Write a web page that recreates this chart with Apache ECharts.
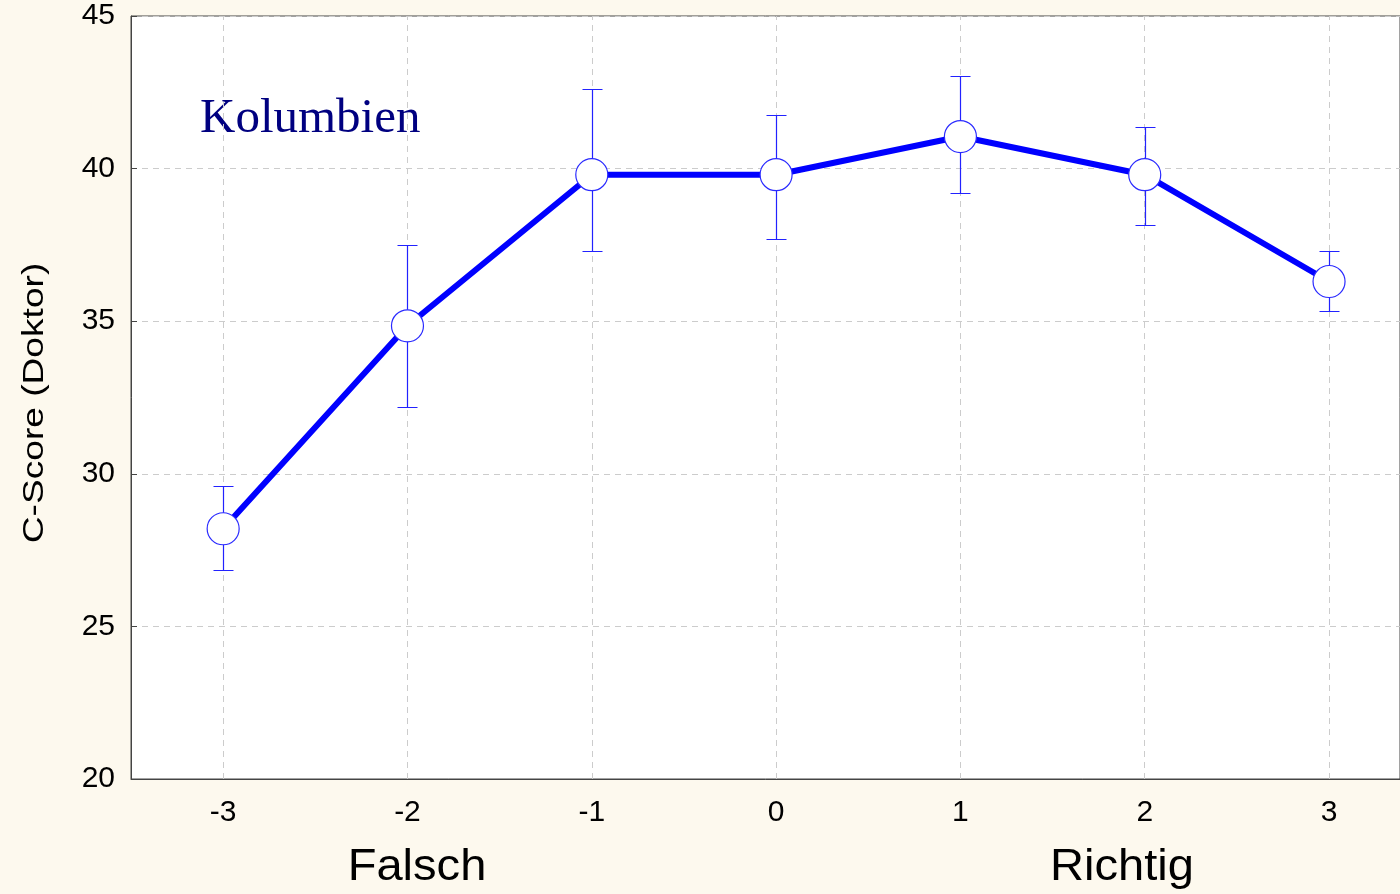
<!DOCTYPE html>
<html>
<head>
<meta charset="utf-8">
<script src="https://cdn.jsdelivr.net/npm/echarts@6/dist/echarts.min.js"></script>
<style>html,body{margin:0;padding:0;background:#fdf9ee;}#c{width:1400px;height:894px;}</style>
</head>
<body>
<div id="c"></div>
<script>
const xValues = [-3, -2, -1, 0, 1, 2, 3];
const means = [28.2, 34.85, 39.8, 39.8, 41.05, 39.8, 36.3];
const upper = [29.6, 37.5, 42.6, 41.75, 43.05, 41.35, 37.3];
const lower = [26.85, 32.2, 37.3, 37.7, 39.2, 38.15, 35.35];
const yTicks = [20, 25, 30, 35, 40, 45];
const panelTitle = 'Kolumbien';
const yTitle = 'C-Score (Doktor)';
const leftLabel = 'Falsch';
const rightLabel = 'Richtig';

const chart = echarts.init(document.getElementById('c'), null, {renderer: 'canvas'});
const lineData = xValues.map((x, i) => [x, means[i]]);
const errData = xValues.map((x, i) => [x, lower[i], upper[i]]);
const fontSans = '"Liberation Sans", Arial, sans-serif';

chart.setOption({
  backgroundColor: '#fdf9ee',
  animation: false,
  grid: {left: 131, top: 16, right: 0, height: 763, show: true, backgroundColor: '#ffffff', borderColor: '#444', borderWidth: 1},
  xAxis: {
    type: 'value', min: -3.5, max: 3.385, interval: 0.5,
    axisLine: {show: true, onZero: false, lineStyle: {color: '#444', width: 1}},
    axisTick: {show: false},
    splitLine: {show: false},
    axisLabel: {
      color: '#000', fontSize: 30, fontFamily: fontSans, margin: 19,
      showMaxLabel: false,
      formatter: v => (Number.isInteger(v) && xValues.includes(v)) ? String(v) : ''
    }
  },
  yAxis: {
    type: 'value', min: yTicks[0], max: yTicks[yTicks.length - 1], interval: 5,
    axisLine: {show: true, onZero: false, lineStyle: {color: '#444', width: 1}},
    axisTick: {show: true, inside: true, length: 6, lineStyle: {color: '#444'}},
    splitLine: {show: true, lineStyle: {color: '#cccccc', type: [6, 5], width: 1}},
    axisLabel: {color: '#000', fontSize: 30, fontFamily: fontSans, margin: 16, padding: [10, 0, 0, 0]}
  },
  series: [
    {
      type: 'line', data: xValues.map(x => [x, 20]), symbol: 'none', lineStyle: {opacity: 0}, silent: true, z: 0,
      markLine: {
        silent: true, symbol: ['none', 'none'], label: {show: false}, z: 0,
        lineStyle: {color: '#cccccc', type: [6, 5], width: 1},
        data: xValues.map(x => ({xAxis: x}))
      }
    },
    {
      type: 'custom', z: 2, data: errData,
      renderItem: function (params, api) {
        const x = api.value(0);
        const lo = api.coord([x, api.value(1)]);
        const hi = api.coord([x, api.value(2)]);
        const cx = Math.round(lo[0]) + 0.5;
        const hw = 10;
        const yl = Math.round(lo[1]) + 0.5;
        const yh = Math.round(hi[1]) + 0.5;
        return {
          type: 'polyline',
          shape: {points: [[cx - hw, yh], [cx + hw, yh], [cx, yh], [cx, yl], [cx - hw, yl], [cx + hw, yl]]},
          style: {stroke: '#2222ff', lineWidth: 1.2, fill: null}
        };
      }
    },
    {
      type: 'line', z: 3, data: lineData,
      lineStyle: {color: '#0000ff', width: 6},
      symbol: 'circle', symbolSize: 32,
      itemStyle: {color: '#ffffff', borderColor: '#2a2aff', borderWidth: 1.2}
    }
  ],
  graphic: [
    {type: 'text', x: 200, y: 119, style: {text: panelTitle, fill: '#000080', font: '49px "Liberation Serif", "Times New Roman", serif', align: 'left', verticalAlign: 'middle'}},
    {type: 'text', x: 35, y: 403, rotation: Math.PI / 2, scaleX: 1.28, style: {text: yTitle, fill: '#000', font: '29px ' + fontSans, align: 'center', verticalAlign: 'middle'}},
    {type: 'text', x: 417, y: 868, scaleX: 1.07, style: {text: leftLabel, fill: '#000', font: '44px ' + fontSans, align: 'center', verticalAlign: 'middle'}},
    {type: 'text', x: 1122, y: 868, scaleX: 1.07, style: {text: rightLabel, fill: '#000', font: '44px ' + fontSans, align: 'center', verticalAlign: 'middle'}}
  ]
});
</script>
</body>
</html>
